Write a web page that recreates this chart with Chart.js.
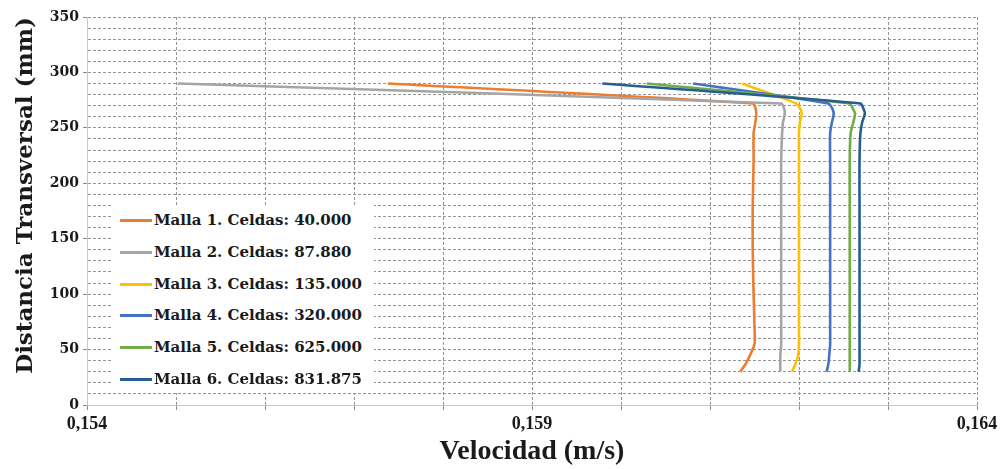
<!DOCTYPE html>
<html>
<head>
<meta charset="utf-8">
<script src="https://cdn.jsdelivr.net/npm/chart.js@4"></script>
<style>
  html, body { margin: 0; padding: 0; background: #ffffff; }
  #wrap { position: relative; width: 1004px; height: 469px; }
  #legend {
    position: absolute; left: 112px; top: 205px; width: 262px; height: 188px;
    background: #ffffff; box-sizing: border-box; padding-top: 0px;
    font-family: "DejaVu Serif", serif; font-weight: bold; font-size: 15px; color: #1a1a1a;
  }
  .item { position: relative; height: 31.8px; line-height: 31.8px; }
  .swatch { position: absolute; left: 8px; top: 14px; width: 32px; height: 3px; }
  .label { position: absolute; left: 42px; top: 0; white-space: nowrap; }
</style>
</head>
<body>
<div id="wrap">
  <canvas id="c" width="1004" height="469"></canvas>
  <div id="legend"></div>
</div>
<script>
// ---- data ----
const distancia = [290, 272, 268, 263, 255, 245, 220, 180, 140, 100, 70, 55, 45, 37, 30];
const malla1 = [0.15738, 0.16148, 0.16151, 0.16152, 0.16151, 0.16149, 0.16149, 0.16148, 0.16148, 0.16149, 0.16150, 0.16150, 0.16145, 0.16140, 0.16134];
const malla2 = [0.15502, 0.16180, 0.16183, 0.16184, 0.16182, 0.16181, 0.16180, 0.16180, 0.16180, 0.16180, 0.16180, 0.16180, 0.16179, 0.16179, 0.16179];
const malla3 = [0.16136, 0.16197, 0.16201, 0.16203, 0.16201, 0.16200, 0.16200, 0.16200, 0.16200, 0.16200, 0.16200, 0.16200, 0.16199, 0.16196, 0.16192];
const malla4 = [0.16081, 0.16233, 0.16237, 0.16239, 0.16237, 0.16235, 0.16235, 0.16235, 0.16235, 0.16235, 0.16235, 0.16235, 0.16234, 0.16233, 0.16231];
const malla5 = [0.16029, 0.16257, 0.16260, 0.16263, 0.16261, 0.16258, 0.16257, 0.16257, 0.16257, 0.16257, 0.16257, 0.16257, 0.16257, 0.16257, 0.16257];
const malla6 = [0.15979, 0.16269, 0.16272, 0.16274, 0.16271, 0.16269, 0.16268, 0.16268, 0.16268, 0.16268, 0.16268, 0.16268, 0.16268, 0.16268, 0.16267];
const seriesNames = [
  "Malla 1. Celdas: 40.000",
  "Malla 2. Celdas: 87.880",
  "Malla 3. Celdas: 135.000",
  "Malla 4. Celdas: 320.000",
  "Malla 5. Celdas: 625.000",
  "Malla 6. Celdas: 831.875"
];
const seriesColors = ["#ED7D31", "#A5A5A5", "#FFC000", "#4472C4", "#70AD47", "#255E91"];
const xMin = 0.154, xMax = 0.164, xStep = 0.001;
const xLabelValues = [0.154, 0.159, 0.164];
const yMin = 0, yMax = 350, yStep = 10, yLabelStep = 50;
const xTitle = "Velocidad (m/s)";
const yTitle = "Distancia Transversal (mm)";

// ---- chart ----
const allSeries = [malla1, malla2, malla3, malla4, malla5, malla6];
const datasets = allSeries.map((vals, i) => ({
  label: seriesNames[i],
  data: vals.map((v, k) => ({ x: v, y: distancia[k] })),
  borderColor: seriesColors[i],
  backgroundColor: seriesColors[i],
  borderWidth: 2.6,
  pointRadius: 0,
  showLine: true,
  tension: 0.3,
  fill: false,
  order: allSeries.length - i
}));

const isXLabel = v => xLabelValues.some(l => Math.abs(l - v) < 1e-7);
const gridColor = "#949494";

new Chart(document.getElementById("c"), {
  type: "scatter",
  data: { datasets },
  options: {
    responsive: false,
    devicePixelRatio: 1,
    animation: false,
    layout: { padding: { left: 0, right: 27, top: 17, bottom: 0 } },
    plugins: { legend: { display: false }, tooltip: { enabled: false } },
    scales: {
      x: {
        type: "linear",
        min: xMin, max: xMax,
        afterFit: s => { s.height = 64; },
        ticks: {
          stepSize: xStep,
          autoSkip: false,
          maxRotation: 0,
          padding: 4,
          color: "#1a1a1a",
          font: { family: "Liberation Serif", weight: "bold", size: 18 },
          callback: v => isXLabel(v) ? v.toFixed(3).replace(".", ",") : ""
        },
        grid: {
          color: gridColor,
          lineWidth: 1,
          tickLength: 5,
          tickColor: "#8c8c8c"
        },
        border: { display: true, color: "#c8c8c8", width: 1, dash: [3, 2] },
        title: {
          display: true, text: xTitle, color: "#1a1a1a",
          font: { family: "Liberation Serif", weight: "bold", size: 28 },
          padding: { top: 0, bottom: 0 }
        }
      },
      y: {
        type: "linear",
        min: yMin, max: yMax,
        afterFit: s => { s.width = 87; },
        ticks: {
          stepSize: yStep,
          autoSkip: false,
          padding: 4,
          color: "#1a1a1a",
          font: { family: "DejaVu Serif", weight: "bold", size: 14 },
          callback: v => (Math.round(v) % yLabelStep === 0) ? String(Math.round(v)) : ""
        },
        grid: {
          color: gridColor,
          lineWidth: 1,
          tickLength: 4,
          tickColor: ctx => (ctx.tick && Math.round(ctx.tick.value) % yLabelStep === 0) ? "#8c8c8c" : "rgba(0,0,0,0)"
        },
        border: { display: true, color: "#c8c8c8", width: 1, dash: [3, 2] },
        title: {
          display: true, text: yTitle, color: "#1a1a1a", align: "end",
          font: { family: "DejaVu Serif", weight: "bold", size: 23 },
          padding: { top: 12, bottom: 0 }
        }
      }
    }
  }
});

// ---- legend (HTML text) ----
const leg = document.getElementById("legend");
seriesNames.forEach((name, i) => {
  const it = document.createElement("div");
  it.className = "item";
  const sw = document.createElement("div");
  sw.className = "swatch";
  sw.style.background = seriesColors[i];
  const lb = document.createElement("div");
  lb.className = "label";
  lb.textContent = name;
  it.appendChild(sw); it.appendChild(lb);
  leg.appendChild(it);
});
</script>
</body>
</html>
